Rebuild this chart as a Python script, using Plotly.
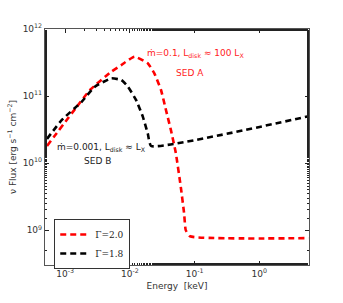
import plotly.graph_objects as go
import numpy as np

# SED A (Gamma=2.0)
sedA_energy = [5.25e-4, 1.51e-3, 2.42e-3, 5.19e-3, 7.38e-3, 0.0118, 0.0189, 0.0239, 0.0303,
               0.0361, 0.0431, 0.0513, 0.0612, 0.0689, 0.0730, 0.085, 5.8]
sedA_flux = [1.8e10, 6.9e10, 1.23e11, 2.31e11, 2.9e11, 3.86e11, 3.08e11, 2.18e11, 1.23e11,
             6.2e10, 3.1e10, 1.41e10, 4.4e9, 1.77e9, 1.0e9, 8.1e8, 7.6e8]

# SED B (Gamma=1.8)
sedB_energy = [5.25e-4, 8.9e-4, 1.80e-3, 2.88e-3, 5.19e-3, 7.4e-3, 9.35e-3, 0.0125, 0.0159,
               0.0189, 0.0213, 5.8]
sedB_flux = [2.3e10, 4.4e10, 8.2e10, 1.38e11, 1.84e11, 1.73e11, 1.38e11, 8.7e10, 4.9e10,
             2.77e10, 1.8e10, 5.0e10]

x_tickvals = [1e-3, 1e-2, 1e-1, 1e0]
x_ticktext = ["10<sup>-3</sup>", "10<sup>-2</sup>", "10<sup>-1</sup>", "10<sup>0</sup>"]
y_tickvals = [1e9, 1e10, 1e11, 1e12]
y_ticktext = ["10<sup>9</sup>", "10<sup>10</sup>", "10<sup>11</sup>", "10<sup>12</sup>"]

fig = go.Figure()
fig.add_trace(go.Scatter(x=sedA_energy, y=sedA_flux, mode="lines", name="Γ=2.0",
                         line=dict(color="#ff0000", width=2.6, dash="6px,4px", shape="spline", smoothing=0.45)))
fig.add_trace(go.Scatter(x=sedB_energy, y=sedB_flux, mode="lines", name="Γ=1.8",
                         line=dict(color="#000000", width=2.6, dash="6px,4px", shape="spline", smoothing=0.4)))

axis_common = dict(type="log", showgrid=False, zeroline=False, showline=True, mirror="allticks",
                   linecolor="#555555", linewidth=1.2, ticks="inside", ticklen=4, tickcolor="#222222",
                   tickfont=dict(family="DejaVu Sans", size=9, color="#333333"),
                   minor=dict(ticks="inside", ticklen=2, tickcolor="#222222", showgrid=False))

fig.update_xaxes(**axis_common, range=[np.log10(4.89e-4), np.log10(5.85)],
                 tickvals=x_tickvals, ticktext=x_ticktext,
                 title=dict(text="Energy  [keV]", font=dict(family="DejaVu Sans", size=9, color="#333333"), standoff=4))
fig.update_yaxes(**axis_common, range=[8.48, 12.0],
                 tickvals=y_tickvals, ticktext=y_ticktext,
                 title=dict(text="ν Flux [erg s<sup>−1</sup> cm<sup>−2</sup>]",
                            font=dict(family="DejaVu Sans", size=9, color="#333333"), standoff=4))

fig.add_annotation(x=np.log10(0.105), y=np.log10(4.3e11), text="ṁ=0.1, L<sub>disk</sub> ≈ 100 L<sub>X</sub>",
                   showarrow=False, font=dict(family="DejaVu Sans", size=9, color="#ff2222"), xref="x", yref="y")
fig.add_annotation(x=np.log10(0.084), y=np.log10(2.23e11), text="SED A",
                   showarrow=False, font=dict(family="DejaVu Sans", size=9, color="#ff2222"), xref="x", yref="y")
fig.add_annotation(x=np.log10(3.7e-3), y=np.log10(1.68e10), text="ṁ=0.001, L<sub>disk</sub> ≈ L<sub>X</sub>",
                   showarrow=False, font=dict(family="DejaVu Sans", size=9, color="#222222"), xref="x", yref="y")
fig.add_annotation(x=np.log10(3.16e-3), y=np.log10(1.08e10), text="SED B",
                   showarrow=False, font=dict(family="DejaVu Sans", size=9, color="#222222"), xref="x", yref="y")

fig.update_layout(width=343, height=303, margin=dict(l=43, r=34, t=29, b=38),
                  paper_bgcolor="white", plot_bgcolor="white",
                  legend=dict(x=0.035, y=0.195, xanchor="left", yanchor="top",
                              bgcolor="white", bordercolor="#333333", borderwidth=1,
                              font=dict(family="DejaVu Serif", size=9, color="#222222"),
                              itemwidth=30, tracegroupgap=0))
fig.write_html("out.html", post_script="document.body.style.margin='0';",
               config={"displayModeBar": False})
